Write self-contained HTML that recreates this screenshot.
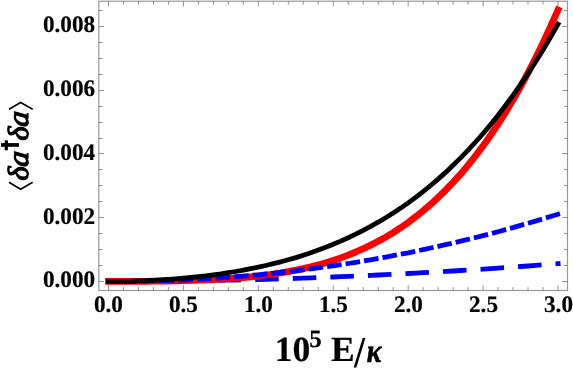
<!DOCTYPE html><html><head><meta charset="utf-8"><style>html,body{margin:0;padding:0;background:#fff}svg{display:block;will-change:transform}text{font-family:"Liberation Serif",serif;font-weight:bold;fill:#000;stroke:#000;stroke-width:0.2px;text-rendering:geometricPrecision}</style></head><body>
<svg width="573" height="370" viewBox="0 0 573 370">
<rect width="573" height="370" fill="#fff"/>
<g fill="none" stroke-linejoin="round">
<path d="M560.5 263.5 L558.0 263.7 L550.5 264.3 L543.0 264.8 L535.5 265.4 L528.0 266.0 L520.5 266.5 L513.0 267.0 L505.5 267.6 L498.1 268.1 L490.6 268.6 L483.1 269.1 L475.6 269.6 L468.1 270.1 L460.6 270.5 L453.1 271.0 L445.6 271.4 L438.1 271.9 L430.6 272.3 L423.1 272.7 L415.7 273.1 L408.2 273.5 L400.7 273.9 L393.2 274.3 L385.7 274.7 L378.2 275.0 L370.7 275.4 L363.2 275.7 L355.7 276.1 L348.2 276.4 L340.7 276.7 L333.2 277.0 L325.8 277.3 L318.3 277.6 L310.8 277.8 L303.3 278.1 L295.8 278.4 L288.3 278.6 L280.8 278.8 L273.3 279.1 L265.8 279.3 L258.3 279.5 L250.8 279.7 L243.3 279.8 L235.9 280.0 L228.4 280.2 L220.9 280.3 L213.4 280.5 L205.9 280.6 L198.4 280.7 L190.9 280.9 L183.4 281.0 L175.9 281.0 L168.4 281.1 L160.9 281.2 L153.4 281.3 L146.0 281.3 L138.5 281.4 L131.0 281.4 L123.5 281.4 L116.0 281.4 L108.5 281.4" stroke="#0000ff" stroke-width="4.8" stroke-dasharray="23.6 14" stroke-dashoffset="18.6"/>
<path d="M108.5 281.4 L116.0 281.4 L123.5 281.4 L131.0 281.4 L138.5 281.3 L146.0 281.3 L153.4 281.2 L160.9 281.1 L168.4 281.0 L175.9 280.8 L183.4 280.7 L190.9 280.4 L198.4 280.2 L205.9 279.9 L213.4 279.5 L220.9 279.1 L228.4 278.6 L235.9 278.1 L243.3 277.5 L250.8 276.8 L258.3 276.0 L265.8 275.0 L273.3 274.0 L280.8 272.9 L288.3 271.6 L295.8 270.2 L303.3 268.6 L310.8 266.8 L318.3 264.9 L325.8 262.8 L333.2 260.4 L340.7 257.9 L348.2 255.1 L355.7 252.0 L363.2 248.7 L370.7 245.1 L378.2 241.3 L385.7 237.1 L393.2 232.6 L400.7 227.7 L408.2 222.5 L415.7 216.8 L423.1 210.8 L430.6 204.4 L438.1 197.5 L445.6 190.2 L453.1 182.4 L460.6 174.1 L468.1 165.2 L475.6 155.8 L483.1 145.9 L490.6 135.3 L498.1 124.2 L505.5 112.4 L513.0 99.9 L520.5 86.8 L528.0 72.9 L535.5 58.3 L543.0 43.0 L550.5 26.8 L558.0 9.9" stroke="#ff0000" stroke-width="6.8" stroke-linecap="square"/>
<path d="M108.5 281.4 L116.0 281.4 L123.5 281.4 L131.0 281.3 L138.5 281.2 L146.0 281.1 L153.4 280.9 L160.9 280.7 L168.4 280.5 L175.9 280.2 L183.4 279.9 L190.9 279.5 L198.4 279.2 L205.9 278.7 L213.4 278.3 L220.9 277.8 L228.4 277.3 L235.9 276.7 L243.3 276.1 L250.8 275.4 L258.3 274.8 L265.8 274.0 L273.3 273.3 L280.8 272.5 L288.3 271.6 L295.8 270.8 L303.3 269.8 L310.8 268.9 L318.3 267.9 L325.8 266.8 L333.2 265.8 L340.7 264.6 L348.2 263.5 L355.7 262.3 L363.2 261.1 L370.7 259.8 L378.2 258.4 L385.7 257.1 L393.2 255.7 L400.7 254.2 L408.2 252.8 L415.7 251.2 L423.1 249.7 L430.6 248.0 L438.1 246.4 L445.6 244.7 L453.1 243.0 L460.6 241.2 L468.1 239.4 L475.6 237.5 L483.1 235.6 L490.6 233.7 L498.1 231.7 L505.5 229.6 L513.0 227.6 L520.5 225.4 L528.0 223.3 L535.5 221.1 L543.0 218.8 L550.5 216.5 L558.0 214.2 L560.4 213.5" stroke="#0000ff" stroke-width="4.8" stroke-dasharray="14.7 4" stroke-dashoffset="5.12"/>
<path d="M108.5 281.4 L116.0 281.4 L123.5 281.3 L131.0 281.2 L138.5 280.9 L146.0 280.7 L153.4 280.3 L160.9 279.9 L168.4 279.4 L175.9 278.8 L183.4 278.2 L190.9 277.5 L198.4 276.7 L205.9 275.9 L213.4 274.9 L220.9 273.9 L228.4 272.7 L235.9 271.5 L243.3 270.2 L250.8 268.7 L258.3 267.2 L265.8 265.5 L273.3 263.7 L280.8 261.8 L288.3 259.7 L295.8 257.6 L303.3 255.2 L310.8 252.7 L318.3 250.1 L325.8 247.3 L333.2 244.3 L340.7 241.1 L348.2 237.7 L355.7 234.2 L363.2 230.4 L370.7 226.4 L378.2 222.2 L385.7 217.7 L393.2 213.0 L400.7 208.1 L408.2 202.9 L415.7 197.4 L423.1 191.6 L430.6 185.5 L438.1 179.1 L445.6 172.4 L453.1 165.3 L460.6 157.9 L468.1 150.2 L475.6 142.0 L483.1 133.5 L490.6 124.6 L498.1 115.3 L505.5 105.5 L513.0 95.3 L520.5 84.7 L528.0 73.6 L535.5 62.0 L543.0 49.9 L550.5 37.3 L558.0 24.2" stroke="#000" stroke-width="4.8" stroke-linecap="square"/>
</g>
<g fill="none" stroke="#999" stroke-width="1.2">
<rect x="98.82" y="1.22" width="468.68" height="289.28"/>
<path d="M108.50 290.50 v-5.30 M108.50 1.22 v5.30 M123.48 290.50 v-3.50 M123.48 1.22 v3.50 M138.47 290.50 v-3.50 M138.47 1.22 v3.50 M153.45 290.50 v-3.50 M153.45 1.22 v3.50 M168.43 290.50 v-3.50 M168.43 1.22 v3.50 M183.42 290.50 v-5.30 M183.42 1.22 v5.30 M198.40 290.50 v-3.50 M198.40 1.22 v3.50 M213.38 290.50 v-3.50 M213.38 1.22 v3.50 M228.36 290.50 v-3.50 M228.36 1.22 v3.50 M243.35 290.50 v-3.50 M243.35 1.22 v3.50 M258.33 290.50 v-5.30 M258.33 1.22 v5.30 M273.31 290.50 v-3.50 M273.31 1.22 v3.50 M288.30 290.50 v-3.50 M288.30 1.22 v3.50 M303.28 290.50 v-3.50 M303.28 1.22 v3.50 M318.26 290.50 v-3.50 M318.26 1.22 v3.50 M333.25 290.50 v-5.30 M333.25 1.22 v5.30 M348.23 290.50 v-3.50 M348.23 1.22 v3.50 M363.21 290.50 v-3.50 M363.21 1.22 v3.50 M378.19 290.50 v-3.50 M378.19 1.22 v3.50 M393.18 290.50 v-3.50 M393.18 1.22 v3.50 M408.16 290.50 v-5.30 M408.16 1.22 v5.30 M423.14 290.50 v-3.50 M423.14 1.22 v3.50 M438.13 290.50 v-3.50 M438.13 1.22 v3.50 M453.11 290.50 v-3.50 M453.11 1.22 v3.50 M468.09 290.50 v-3.50 M468.09 1.22 v3.50 M483.08 290.50 v-5.30 M483.08 1.22 v5.30 M498.06 290.50 v-3.50 M498.06 1.22 v3.50 M513.04 290.50 v-3.50 M513.04 1.22 v3.50 M528.02 290.50 v-3.50 M528.02 1.22 v3.50 M543.01 290.50 v-3.50 M543.01 1.22 v3.50 M557.99 290.50 v-5.30 M557.99 1.22 v5.30 M98.82 281.50 h5.30 M567.50 281.50 h-5.30 M98.82 265.50 h3.50 M567.50 265.50 h-3.50 M98.82 249.50 h3.50 M567.50 249.50 h-3.50 M98.82 233.50 h3.50 M567.50 233.50 h-3.50 M98.82 217.50 h5.30 M567.50 217.50 h-5.30 M98.82 201.50 h3.50 M567.50 201.50 h-3.50 M98.82 185.50 h3.50 M567.50 185.50 h-3.50 M98.82 169.50 h3.50 M567.50 169.50 h-3.50 M98.82 153.50 h5.30 M567.50 153.50 h-5.30 M98.82 138.50 h3.50 M567.50 138.50 h-3.50 M98.82 122.50 h3.50 M567.50 122.50 h-3.50 M98.82 106.50 h3.50 M567.50 106.50 h-3.50 M98.82 90.50 h5.30 M567.50 90.50 h-5.30 M98.82 74.50 h3.50 M567.50 74.50 h-3.50 M98.82 58.50 h3.50 M567.50 58.50 h-3.50 M98.82 42.50 h3.50 M567.50 42.50 h-3.50 M98.82 26.50 h5.30 M567.50 26.50 h-5.30 M98.82 10.50 h3.50 M567.50 10.50 h-3.50" stroke="#666" stroke-width="0.7"/>
</g>
<text transform="translate(108.40 312.20) scale(1.0000 1.0200)" font-size="23.2" text-anchor="middle">0.0</text>
<text transform="translate(183.42 312.20) scale(1.0000 1.0200)" font-size="23.2" text-anchor="middle">0.5</text>
<text transform="translate(258.43 312.20) scale(1.0000 1.0200)" font-size="23.2" text-anchor="middle">1.0</text>
<text transform="translate(333.44 312.20) scale(1.0000 1.0200)" font-size="23.2" text-anchor="middle">1.5</text>
<text transform="translate(408.46 312.20) scale(1.0000 1.0200)" font-size="23.2" text-anchor="middle">2.0</text>
<text transform="translate(483.48 312.20) scale(1.0000 1.0200)" font-size="23.2" text-anchor="middle">2.5</text>
<text transform="translate(558.49 312.20) scale(1.0000 1.0200)" font-size="23.2" text-anchor="middle">3.0</text>
<text transform="translate(95.10 287.35) scale(1.0000 1.0200)" font-size="23.2" text-anchor="end">0.000</text>
<text transform="translate(95.10 223.60) scale(1.0000 1.0200)" font-size="23.2" text-anchor="end">0.002</text>
<text transform="translate(95.10 159.85) scale(1.0000 1.0200)" font-size="23.2" text-anchor="end">0.004</text>
<text transform="translate(95.10 96.10) scale(1.0000 1.0200)" font-size="23.2" text-anchor="end">0.006</text>
<text transform="translate(95.10 32.35) scale(1.0000 1.0200)" font-size="23.2" text-anchor="end">0.008</text>
<text transform="translate(274.70 361.30) scale(1.0000 1.0000)" font-size="35.5" text-anchor="start">10</text>
<text transform="translate(309.20 346.90) scale(1.0000 1.0000)" font-size="25" text-anchor="start">5</text>
<text transform="translate(330.90 361.30) scale(1.0000 1.0000)" font-size="35.5" text-anchor="start">E</text>
<text transform="translate(354.10 367.00) scale(1.1200 1.2440)" font-size="35.5" text-anchor="start" style="stroke-width:0">/</text>
<text transform="translate(366.70 361.60) scale(0.8400 1.0000)" font-size="33" text-anchor="start" font-style="italic" style="stroke-width:0.7px">κ</text>
<g transform="translate(28.5 189.5) rotate(-90)">
<g fill="none" stroke="#000" stroke-width="1.6"><polyline points="7.3,-19.5 0.3,-7.9 7.3,4.2"/><polyline points="80.3,-19.5 87,-7.9 80.3,4.2"/></g>
<text transform="translate(8.90 -0.8) skewX(0) scale(1.040 1)" font-size="29" style="font-style:italic;font-weight:normal;stroke-width:1.2px">δ</text>
<text transform="translate(22.30 -0.8) skewX(-5) scale(1.060 1)" font-size="29" style="font-style:italic;font-weight:normal;stroke-width:1.2px">a</text>
<text transform="translate(49.10 -0.8) skewX(0) scale(1.040 1)" font-size="29" style="font-style:italic;font-weight:normal;stroke-width:1.2px">δ</text>
<text transform="translate(62.30 -0.8) skewX(-5) scale(1.060 1)" font-size="29" style="font-style:italic;font-weight:normal;stroke-width:1.2px">a</text>
<rect x="42.7" y="-27.5" width="3.7" height="18"/><rect x="39.2" y="-23.8" width="10" height="3.2"/>
</g>
</svg></body></html>
